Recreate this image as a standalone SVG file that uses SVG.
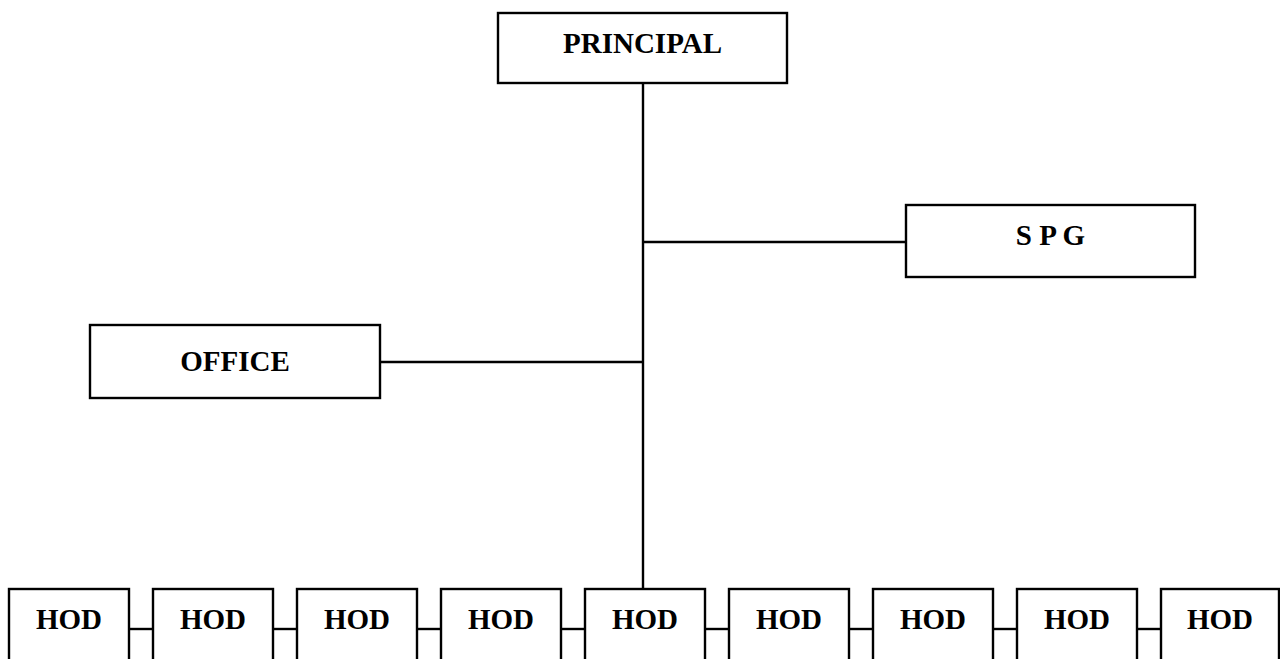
<svg xmlns="http://www.w3.org/2000/svg" width="1280" height="659" viewBox="0 0 1280 659">
<style>
.box{fill:#fff;stroke:#000;stroke-width:2.4}
.ln{stroke:#000;stroke-width:2.4;fill:none}
.t{font-family:"Liberation Serif","Times New Roman",serif;font-weight:bold;font-size:29px;text-anchor:middle;fill:#000}
</style>
<rect width="1280" height="659" fill="#fff"/>
<g id="connectors">
<line class="ln" x1="643" y1="83" x2="643" y2="589"/>
<line class="ln" x1="643" y1="242" x2="906" y2="242"/>
<line class="ln" x1="380" y1="362" x2="643" y2="362"/>
<line class="ln" x1="129" y1="629" x2="153" y2="629"/>
<line class="ln" x1="273" y1="629" x2="297" y2="629"/>
<line class="ln" x1="417" y1="629" x2="441" y2="629"/>
<line class="ln" x1="561" y1="629" x2="585" y2="629"/>
<line class="ln" x1="705" y1="629" x2="729" y2="629"/>
<line class="ln" x1="849" y1="629" x2="873" y2="629"/>
<line class="ln" x1="993" y1="629" x2="1017" y2="629"/>
<line class="ln" x1="1137" y1="629" x2="1161" y2="629"/>
</g>
<g id="principal"><rect class="box" x="498" y="13" width="289" height="70"/><text class="t" x="642.5" y="53">PRINCIPAL</text></g>
<g id="spg"><rect class="box" x="906" y="205" width="289" height="72"/><text class="t" x="1050.5" y="245">S P G</text></g>
<g id="office"><rect class="box" x="90" y="325" width="290" height="73"/><text class="t" x="235" y="371">OFFICE</text></g>
<g id="hod1"><rect class="box" x="9" y="589" width="120" height="90"/><text class="t" x="69" y="629">HOD</text></g>
<g id="hod2"><rect class="box" x="153" y="589" width="120" height="90"/><text class="t" x="213" y="629">HOD</text></g>
<g id="hod3"><rect class="box" x="297" y="589" width="120" height="90"/><text class="t" x="357" y="629">HOD</text></g>
<g id="hod4"><rect class="box" x="441" y="589" width="120" height="90"/><text class="t" x="501" y="629">HOD</text></g>
<g id="hod5"><rect class="box" x="585" y="589" width="120" height="90"/><text class="t" x="645" y="629">HOD</text></g>
<g id="hod6"><rect class="box" x="729" y="589" width="120" height="90"/><text class="t" x="789" y="629">HOD</text></g>
<g id="hod7"><rect class="box" x="873" y="589" width="120" height="90"/><text class="t" x="933" y="629">HOD</text></g>
<g id="hod8"><rect class="box" x="1017" y="589" width="120" height="90"/><text class="t" x="1077" y="629">HOD</text></g>
<g id="hod9"><rect class="box" x="1161" y="589" width="118" height="90"/><text class="t" x="1220" y="629">HOD</text></g>
</svg>
